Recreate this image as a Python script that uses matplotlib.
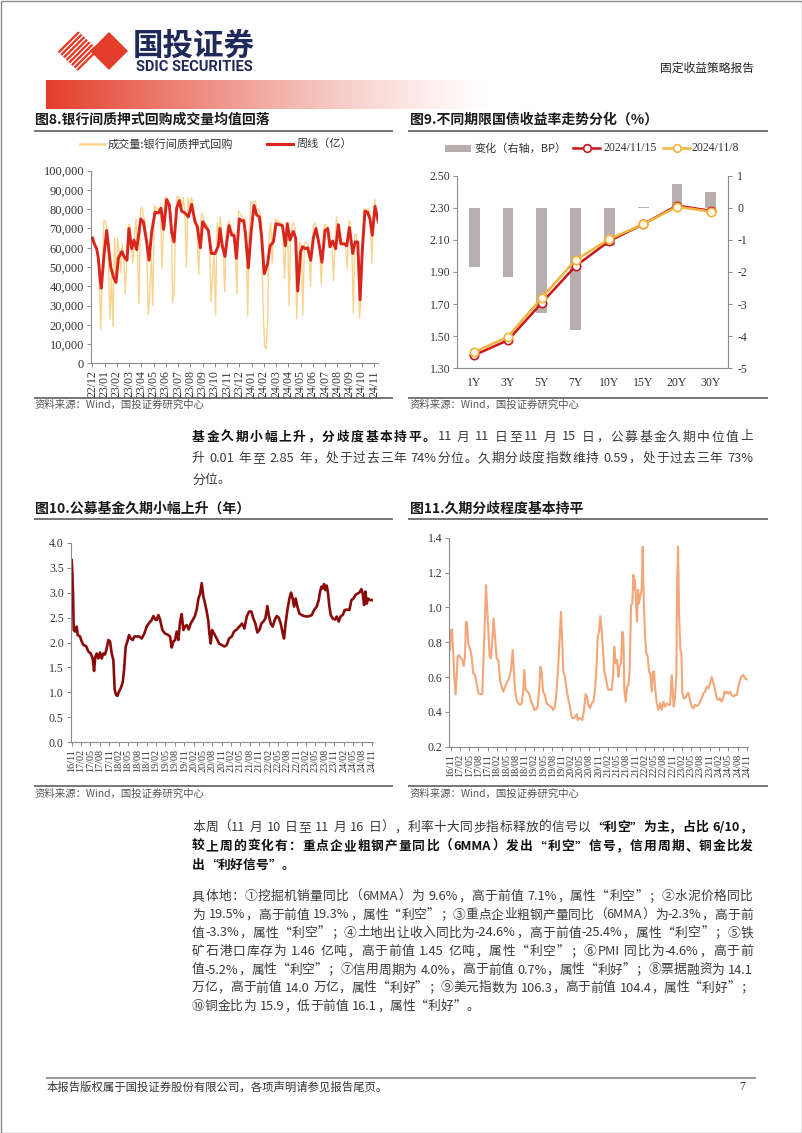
import numpy as np
import matplotlib
matplotlib.use('Agg')
import matplotlib.pyplot as plt
from matplotlib.patches import Polygon, Rectangle
from matplotlib.font_manager import FontProperties, findfont, get_font

W, H = 802, 1133
CJK = ['Noto Sans CJK SC', 'DejaVu Sans']
SERIF = ['Liberation Serif', 'DejaVu Serif']
plt.rcParams['font.family'] = CJK
plt.rcParams['axes.unicode_minus'] = False

# ---------------- data: chart 8 (interbank pledged repo volume, 亿) ----------------
months8 = ['22/12', '23/01', '23/02', '23/03', '23/04', '23/05', '23/06', '23/07',
           '23/08', '23/09', '23/10', '23/11', '23/12', '24/01', '24/02', '24/03',
           '24/04', '24/05', '24/06', '24/07', '24/08', '24/09', '24/10', '24/11']
# daily-ish volume, 8 readings per month (last month partial)
repo_daily = [
    [66000, 63000, 61000, 57000, 45000, 17500, 48000, 74000],
    [74000, 70000, 52000, 23000, 45000, 19000, 65000, 42000],
    [65000, 58000, 47000, 62000, 57000, 36000, 55000, 72000],
    [72000, 62000, 52000, 66000, 75000, 58000, 31000, 80000],
    [81000, 76000, 74000, 60000, 25000, 36000, 57000, 30000],
    [82000, 80000, 81000, 79000, 82000, 49000, 72000, 86000],
    [86000, 85000, 83000, 76000, 31500, 38000, 80000, 87000],
    [86000, 86000, 80000, 86000, 78000, 50000, 86000, 80000],
    [86000, 84000, 76000, 75000, 66000, 46000, 70000, 78000],
    [76000, 73000, 72000, 71000, 62000, 32000, 45000, 57000],
    [25000, 73000, 66000, 76000, 68000, 58000, 37000, 68000],
    [72000, 74000, 70000, 68000, 68000, 56000, 36000, 79000],
    [78000, 76000, 75000, 75000, 60000, 24500, 70000, 84000],
    [83000, 84000, 84000, 80000, 80000, 78000, 74000, 30000],
    [9000, 7500, 20000, 68000, 73000, 52000, 70000, 75000],
    [74000, 74000, 73000, 73000, 72000, 44000, 64000, 73000],
    [30000, 65000, 72000, 73000, 70000, 23000, 48000, 63000],
    [61000, 25000, 62000, 63000, 62000, 61000, 40000, 62000],
    [72000, 73000, 70000, 66000, 60000, 41000, 60000, 72000],
    [72000, 71000, 60000, 62000, 63000, 43000, 62000, 76000],
    [66000, 63000, 63000, 63000, 63000, 60000, 49000, 74000],
    [73000, 60000, 26000, 67000, 67000, 55000, 23500, 34000],
    [56000, 80000, 80000, 80000, 80000, 78000, 52000, 75000],
    [85000, 80000, 74000],
]
# weekly average (months since 2022-12-01)
week_x = [0.0, 0.16, 0.35, 0.49, 0.63, 0.73, 0.95, 1.17, 1.33, 1.50,
          1.71, 1.93, 2.12, 2.40, 2.67, 2.83, 2.99, 3.21, 3.40, 3.62,
          3.95, 4.16, 4.44, 4.63, 4.84, 5.12, 5.39, 5.61, 5.82, 6.07,
          6.29, 6.48, 6.67, 6.89, 7.10, 7.29, 7.57, 7.84, 8.11, 8.38,
          8.57, 8.82, 9.01, 9.23, 9.47, 9.72, 10.02, 10.29, 10.42, 10.61,
          10.83, 11.02, 11.16, 11.38, 11.57, 11.76, 12.00, 12.19, 12.36, 12.49,
          12.74, 12.96, 13.20, 13.42, 13.64, 13.83, 14.04, 14.29, 14.51, 14.78,
          15.00, 15.27, 15.52, 15.76, 15.92, 16.14, 16.41, 16.60, 16.77, 17.01,
          17.17, 17.39, 17.58, 17.83, 18.05, 18.26, 18.48, 18.75, 19.00, 19.22,
          19.41, 19.62, 19.87, 20.09, 20.30, 20.58, 20.77, 20.99, 21.26, 21.45,
          21.67, 21.86, 22.05, 22.26, 22.46, 22.67, 22.86, 23.08, 23.35]
week_v = [65000, 62000, 59500, 54500, 44000, 39000, 56000, 69000, 60000, 50000,
          45000, 42000, 54500, 58000, 54500, 53500, 70000, 59500, 64000, 59000,
          75000, 73500, 63000, 53500, 68000, 78500, 78000, 80500, 69500, 85000,
          82000, 68000, 63000, 80500, 84500, 79000, 78000, 76000, 82500, 73500,
          71000, 60000, 73500, 71000, 69000, 57000, 57000, 61000, 70000, 61000,
          55500, 65000, 71500, 66500, 66500, 54500, 75000, 74000, 74000, 68000,
          49500, 68000, 82000, 77000, 76000, 65000, 46500, 51000, 61000, 63000,
          72500, 72000, 71500, 61000, 72500, 64000, 68500, 65000, 37500, 58000,
          60500, 59500, 60000, 53500, 65000, 70000, 63000, 52500, 69000, 70000,
          60500, 63500, 59500, 72000, 62000, 62000, 61000, 70500, 57000, 63000,
          63000, 33000, 59500, 79000, 78500, 75000, 66500, 81500, 73500]

# ---------------- data: chart 9 (treasury yields) ----------------
tenors = ['1Y', '3Y', '5Y', '7Y', '10Y', '15Y', '20Y', '30Y']
yield_1115 = [1.382, 1.475, 1.708, 1.937, 2.093, 2.198, 2.314, 2.281]
yield_1108 = [1.400, 1.497, 1.740, 1.975, 2.105, 2.198, 2.307, 2.276]
change_bp = [-1.85, -2.17, -3.27, -3.80, -1.18, 0.02, 0.73, 0.50]

# ---------------- data: charts 10 / 11 (months since 2016-11) ----------------
qlabels = ['16/11', '17/02', '17/05', '17/08', '17/11', '18/02', '18/05', '18/08',
           '18/11', '19/02', '19/05', '19/08', '19/11', '20/02', '20/05', '20/08',
           '20/11', '21/02', '21/05', '21/08', '21/11', '22/02', '22/05', '22/08',
           '22/11', '23/02', '23/05', '23/08', '23/11', '24/02', '24/05', '24/08', '24/11']
dur_x = [0.0, 0.21, 0.43, 0.64, 1.07, 1.60, 1.92, 2.67, 3.20, 3.73,
         4.59, 5.33, 6.08, 6.72, 7.15, 7.57, 8.00, 8.53, 9.07, 9.60,
         10.13, 10.67, 11.20, 11.73, 12.27, 12.80, 13.33, 13.76, 14.19, 14.61,
         15.15, 15.68, 16.32, 16.75, 17.28, 17.81, 18.35, 18.88, 19.52, 20.05,
         20.80, 21.65, 22.40, 23.25, 24.00, 24.85, 25.60, 26.13, 26.77, 27.20,
         27.73, 28.27, 29.01, 29.87, 30.61, 31.47, 32.00, 32.53, 33.07, 33.60,
         34.13, 34.67, 35.20, 35.73, 36.27, 36.80, 37.44, 38.08, 38.72, 39.36,
         40.00, 40.53, 41.07, 41.60, 42.13, 42.67, 43.20, 43.73, 44.05, 44.48,
         44.91, 45.55, 46.40, 47.15, 48.00, 48.85, 49.60, 50.35, 51.20, 51.95,
         52.80, 53.65, 54.51, 55.25, 56.00, 56.75, 57.49, 58.13, 58.77, 59.41,
         60.05, 60.69, 61.33, 61.97, 62.61, 63.04, 63.68, 64.32, 64.96, 65.60,
         66.24, 66.88, 67.52, 67.95, 68.37, 69.01, 69.65, 70.19, 70.72, 71.15,
         71.68, 72.21, 72.85, 73.60, 74.35, 75.20, 76.05, 76.80, 77.55, 78.40,
         79.04, 79.47, 79.89, 80.32, 80.75, 81.17, 81.60, 82.03, 82.45, 82.88,
         83.52, 84.27, 84.80, 85.44, 86.08, 86.72, 87.36, 88.00, 88.85, 89.49,
         90.13, 90.77, 91.41, 92.05, 92.69, 93.12, 93.55, 93.97, 94.40, 94.83,
         95.47, 96.32]
dur_v = [3.65, 3.39, 2.98, 2.25, 2.22, 2.32, 2.15, 2.12, 2.02, 1.95,
         1.93, 1.82, 1.78, 1.68, 1.43, 1.72, 1.78, 1.68, 1.80, 1.68,
         1.78, 1.76, 1.88, 2.05, 2.02, 1.78, 1.65, 1.05, 0.95, 0.93,
         1.02, 1.08, 1.20, 1.45, 1.92, 2.02, 2.15, 2.08, 2.05, 2.12,
         2.12, 2.12, 2.08, 2.18, 2.32, 2.40, 2.45, 2.53, 2.46, 2.45,
         2.55, 2.46, 2.25, 2.18, 2.16, 2.12, 1.90, 2.02, 2.05, 2.22,
         2.05, 2.42, 2.57, 2.25, 2.32, 2.35, 2.26, 2.38, 2.45, 2.52,
         2.66, 2.88, 2.97, 3.19, 2.92, 2.78, 2.62, 2.42, 2.18, 1.98,
         2.25, 2.18, 2.08, 1.98, 1.95, 1.92, 1.95, 2.08, 2.12, 2.22,
         2.26, 2.32, 2.38, 2.28, 2.52, 2.62, 2.62, 2.48, 2.38, 2.20,
         2.25, 2.38, 2.42, 2.48, 2.73, 2.55, 2.38, 2.32, 2.45, 2.53,
         2.50, 2.38, 2.18, 2.08, 2.35, 2.65, 2.88, 3.00, 2.88, 2.72,
         2.88, 2.72, 2.58, 2.55, 2.53, 2.52, 2.53, 2.55, 2.65, 2.72,
         2.85, 3.02, 3.12, 3.08, 3.17, 3.05, 3.14, 2.98, 2.72, 2.55,
         2.48, 2.46, 2.52, 2.42, 2.53, 2.55, 2.65, 2.66, 2.65, 2.85,
         2.88, 2.95, 2.98, 3.00, 3.07, 2.98, 2.75, 3.02, 2.78, 2.88,
         2.85, 2.85]
disp_x = [-0.22, 0.11, 0.43, 0.76, 1.19, 1.62, 1.95, 2.27, 2.70, 3.35,
          3.78, 4.22, 4.65, 4.97, 5.30, 5.73, 6.27, 6.81, 7.35, 7.89,
          8.43, 8.97, 9.51, 10.27, 10.70, 11.14, 11.46, 11.78, 12.22, 12.65,
          13.08, 13.51, 13.95, 14.38, 14.92, 15.46, 16.00, 16.54, 17.08, 17.62,
          18.16, 18.92, 19.57, 20.11, 20.43, 20.86, 21.41, 21.95, 22.49, 23.03,
          23.57, 23.89, 24.32, 24.97, 25.51, 26.05, 26.59, 27.14, 27.68, 28.22,
          28.76, 29.08, 29.51, 29.95, 30.59, 31.14, 31.68, 32.22, 32.76, 33.30,
          33.84, 34.38, 34.92, 35.35, 35.78, 36.11, 36.54, 37.08, 37.62, 38.16,
          38.70, 39.24, 39.78, 40.32, 40.86, 41.19, 41.62, 42.16, 42.70, 43.24,
          43.78, 44.22, 44.65, 45.19, 45.73, 46.27, 46.81, 47.35, 47.68, 48.11,
          48.54, 48.97, 49.41, 49.84, 50.27, 50.70, 51.14, 51.68, 52.22, 52.65,
          53.08, 53.51, 53.95, 54.38, 54.70, 55.24, 55.68, 56.00, 56.32, 56.76,
          57.19, 57.62, 58.05, 58.49, 58.92, 59.24, 59.57, 59.78, 60.11, 60.43,
          60.76, 61.08, 61.51, 61.95, 62.27, 62.59, 63.03, 63.46, 63.89, 64.32,
          64.76, 65.19, 65.62, 65.95, 66.27, 66.81, 67.35, 67.89, 68.43, 68.97,
          69.51, 70.05, 70.59, 71.14, 71.68, 72.00, 72.32, 72.76, 73.19, 73.41,
          73.73, 74.05, 74.49, 74.81, 75.14, 75.57, 76.00, 76.54, 77.08, 77.62,
          78.16, 78.70, 79.24, 79.78, 80.32, 80.86, 81.41, 81.95, 82.49, 83.03,
          83.57, 84.11, 84.65, 85.19, 85.73, 86.27, 86.81, 87.35, 87.89, 88.43,
          88.76, 89.19, 89.62, 90.05, 90.59, 91.14, 91.68, 92.22, 92.76, 93.30,
          93.84, 94.38, 94.92, 95.46, 96.00]
disp_v = [0.755, 0.870, 0.874, 0.774, 0.600, 0.500, 0.600, 0.717, 0.726, 0.707,
          0.698, 0.663, 0.717, 0.918, 0.908, 0.793, 0.765, 0.717, 0.621, 0.611,
          0.564, 0.510, 0.502, 0.502, 0.717, 0.946, 1.128, 1.023, 0.870, 0.717,
          0.707, 0.812, 0.937, 0.830, 0.707, 0.698, 0.583, 0.545, 0.516, 0.545,
          0.564, 0.592, 0.640, 0.755, 0.659, 0.525, 0.468, 0.449, 0.440, 0.449,
          0.525, 0.640, 0.525, 0.516, 0.502, 0.458, 0.440, 0.411, 0.414, 0.430,
          0.545, 0.659, 0.631, 0.516, 0.497, 0.449, 0.440, 0.434, 0.426, 0.411,
          0.430, 0.525, 0.678, 0.832, 0.975, 0.832, 0.631, 0.600, 0.525, 0.468,
          0.430, 0.368, 0.363, 0.368, 0.388, 0.353, 0.363, 0.363, 0.353, 0.411,
          0.502, 0.487, 0.440, 0.420, 0.449, 0.458, 0.525, 0.678, 0.832, 0.860,
          0.950, 0.870, 0.755, 0.631, 0.600, 0.554, 0.525, 0.529, 0.525, 0.611,
          0.774, 0.678, 0.698, 0.600, 0.659, 0.678, 0.860, 0.832, 0.525, 0.458,
          0.545, 0.554, 0.640, 1.013, 1.023, 1.186, 1.100, 1.157, 1.023, 0.918,
          1.100, 1.023, 1.071, 1.100, 1.348, 1.042, 0.832, 0.736, 0.717, 0.631,
          0.621, 0.516, 0.631, 0.631, 0.545, 0.449, 0.411, 0.449, 0.411, 0.458,
          0.430, 0.449, 0.440, 0.440, 0.611, 0.525, 0.430, 0.487, 0.621, 1.119,
          1.348, 0.966, 0.755, 0.736, 0.506, 0.478, 0.478, 0.497, 0.510, 0.468,
          0.430, 0.420, 0.440, 0.434, 0.440, 0.458, 0.478, 0.506, 0.516, 0.545,
          0.535, 0.564, 0.600, 0.564, 0.525, 0.478, 0.468, 0.478, 0.458, 0.487,
          0.516, 0.506, 0.516, 0.506, 0.516, 0.497, 0.487, 0.497, 0.497, 0.545,
          0.583, 0.606, 0.611, 0.592, 0.587]

# ---------------- text ----------------
para1 = [
    [('基金久期小幅上升，分歧度基本持平。', 'bold'), ('11 月 11 日至11 月 15 日，公募基金久期中位值上', 'normal')],
    [('升 0.01 年至 2.85 年，处于过去三年 74%分位。久期分歧度指数维持 0.59，处于过去三年 73%', 'normal')],
    [('分位。', 'normal')],
]
para1_y = [437, 458.5, 480]
para2 = [
    [('本周（11 月 10 日至 11 月 16 日），利率十大同步指标释放的信号以', 'normal'), ('“利空”为主，占比 6/10，', 'bold')],
    [('较上周的变化有：重点企业粗钢产量同比（6MMA）发出“利空”信号，信用周期、铜金比发', 'bold')],
    [('出“利好信号”。', 'bold')],
    [('具体地：①挖掘机销量同比（6MMA）为 9.6%，高于前值 7.1%，属性“利空”；②水泥价格同比', 'normal')],
    [('为 19.5%，高于前值 19.3%，属性“利空”；③重点企业粗钢产量同比（6MMA）为-2.3%，高于前', 'normal')],
    [('值-3.3%，属性“利空”；④土地出让收入同比为-24.6%，高于前值-25.4%，属性“利空”；⑤铁', 'normal')],
    [('矿石港口库存为 1.46 亿吨，高于前值 1.45 亿吨，属性“利空”；⑥PMI 同比为-4.6%，高于前', 'normal')],
    [('值-5.2%，属性“利空”；⑦信用周期为 4.0%，高于前值 0.7%，属性“利好”；⑧票据融资为 14.1', 'normal')],
    [('万亿，高于前值 14.0 万亿，属性“利好”；⑨美元指数为 106.3，高于前值 104.4，属性“利好”；', 'normal')],
    [('⑩铜金比为 15.9，低于前值 16.1，属性“利好”。', 'normal')],
]
para2_y = [827.7, 846.7, 865, 896.7, 915, 933, 951.7, 970, 988, 1006.7]
para2_last = [False, False, True, False, False, False, False, False, False, True]
para1_last = [False, False, True]

# ---------------- figure ----------------
fig = plt.figure(figsize=(W / 100, H / 100), dpi=100)
bg = fig.add_axes([0, 0, 1, 1], zorder=-5)
bg.set_xlim(0, W)
bg.set_ylim(H, 0)
bg.axis('off')


def px_axes(x0, y0, x1, y1):
    return fig.add_axes([x0 / W, 1 - y1 / H, (x1 - x0) / W, (y1 - y0) / H])


def hline(x0, x1, y, color='#5f5f5f', lw=1.2):
    bg.plot([x0, x1], [y, y], color=color, lw=lw, solid_capstyle='butt')


GRAY = '#8c8c8c'


def style_axes(ax, left=True, right=False):
    for s in ['top', 'right', 'left', 'bottom']:
        ax.spines[s].set_visible(False)
    ax.spines['bottom'].set_visible(True)
    if left:
        ax.spines['left'].set_visible(True)
    if right:
        ax.spines['right'].set_visible(True)
    for s in ax.spines.values():
        s.set_color(GRAY)
        s.set_linewidth(0.8)
    ax.tick_params(direction='out', length=3, width=0.7, color=GRAY, labelcolor='#333333', pad=2)


# page border
bg.add_patch(Rectangle((0.5, 0.5), W - 1, H - 1, fill=False, ec='#8a8a8a', lw=1.0))

# header gradient band
t = np.linspace(0, 1, 300)
grad = np.zeros((1, 300, 4))
grad[0, :, 0] = 0.89
grad[0, :, 1] = 0.24
grad[0, :, 2] = 0.16
grad[0, :, 3] = (1 - t) ** 1.25
bg.imshow(grad, extent=(46, 495, 109, 80), aspect='auto', interpolation='bilinear', zorder=1)
bg.set_xlim(0, W)
bg.set_ylim(H, 0)

# logo
LOGO_RED = '#E23D28'
clip = Polygon([(78, 31), (99, 51), (78, 71), (57, 51)], closed=True, transform=bg.transData)
for k in range(-4, 14):
    x = 40 + k * 5.2
    ln, = bg.plot([x, x + 40], [71, 31], color=LOGO_RED, lw=1.7, solid_capstyle='butt')
    ln.set_clip_path(clip)
bg.add_patch(Polygon([(109, 32), (128, 51), (109, 70), (90, 51)], closed=True, fc=LOGO_RED, ec='none'))
bg.text(133, 46, '国投证券', fontsize=22, fontweight='bold', color='#1F2A5A', va='center', ha='left')
bg.text(136, 67, 'SDIC SECURITIES', fontsize=10.5, fontweight='bold', family=['Roboto', 'DejaVu Sans'],
        color='#1F2A5A', va='center', ha='left')
bg.text(754, 68, '固定收益策略报告', fontsize=8.5, color='#222222', ha='right', va='center')

# titles / rules / sources
TITLE_KW = dict(fontsize=10, fontweight='bold', color='#1a1a1a', va='center', ha='left')
SRC_KW = dict(fontsize=7.5, color='#555555', va='center', ha='left', style='italic')
bg.text(35, 120, '图8.银行间质押式回购成交量均值回落', **TITLE_KW)
bg.text(410, 120, '图9.不同期限国债收益率走势分化（%）', **TITLE_KW)
bg.text(35, 509, '图10.公募基金久期小幅上升（年）', **TITLE_KW)
bg.text(410, 509, '图11.久期分歧程度基本持平', **TITLE_KW)
hline(34, 393, 130.5)
hline(408, 768, 130.5)
hline(34, 393, 519.3)
hline(408, 768, 519.3)
hline(34, 393, 397.7)
hline(408, 768, 397.7)
hline(34, 393, 786)
hline(408, 768, 786)
bg.text(35, 405, '资料来源：Wind，国投证券研究中心', **SRC_KW)
bg.text(410, 405, '资料来源：Wind，国投证券研究中心', **SRC_KW)
bg.text(35, 793.5, '资料来源：Wind，国投证券研究中心', **SRC_KW)
bg.text(410, 793.5, '资料来源：Wind，国投证券研究中心', **SRC_KW)

# footer
hline(46, 756, 1078, color='#9a9a9a', lw=1.5)
bg.text(47, 1087, '本报告版权属于国投证券股份有限公司，各项声明请参见报告尾页。', fontsize=8.2,
        color='#333333', va='center', ha='left')
bg.text(742, 1087, '7', fontsize=8.5, color='#333333', va='center', ha='center', family=SERIF)

# ---------------- chart 8 ----------------
YEL = '#F9D48E'
RED8 = '#D8261D'
bg.plot([80, 105], [144, 144], color=YEL, lw=1.8)
bg.text(108, 144, '成交量:银行间质押式回购', fontsize=8, color='#333333', va='center')
bg.plot([267, 293], [144, 144], color=RED8, lw=2.2)
bg.text(297, 144, '周线（亿）', fontsize=8, color='#333333', va='center')

ax8 = px_axes(91, 170.7, 378.3, 363.3)
dx = [i + (j + 0.5) / 8 for i, m in enumerate(repo_daily) for j in range(len(m))]
dv = [v for m in repo_daily for v in m]
ax8.plot(dx, dv, color=YEL, lw=1.0, zorder=2)
ax8.plot(week_x, week_v, color=RED8, lw=2.1, zorder=3, solid_joinstyle='round')
ax8.set_xlim(-0.11, 23.35)
ax8.set_ylim(0, 100000)
yt8 = list(range(0, 100001, 10000))
ax8.set_yticks(yt8)
ax8.set_yticklabels([f'{v:,}' for v in yt8], family=SERIF, fontsize=9)
ax8.set_xticks(range(len(months8)))
ax8.set_xticklabels(months8, rotation=90, family=SERIF, fontsize=8.5)
style_axes(ax8)

# ---------------- chart 9 ----------------
BARC = '#B9AEAE'
RED9 = '#C8161D'
GOLD = '#F0B43C'
bg.add_patch(Rectangle((445, 145), 26, 6.5, fc=BARC, ec='none'))
bg.text(474, 148, '变化（右轴，BP）', fontsize=8, color='#333333', va='center')
bg.plot([573, 600], [148, 148], color=RED9, lw=1.8)
bg.plot([586.5], [148], marker='o', ms=5.5, mfc='white', mec=RED9, mew=1.2)
bg.text(603, 148, '2024/11/15', fontsize=8.5, color='#333333', va='center', family=SERIF)
bg.plot([663, 690], [148, 148], color=GOLD, lw=1.8)
bg.plot([676.5], [148], marker='o', ms=5.5, mfc='white', mec=GOLD, mew=1.2)
bg.text(692, 148, '2024/11/8', fontsize=8.5, color='#333333', va='center', family=SERIF)

ax9 = px_axes(457.3, 175.7, 727.7, 368.3)
ax9r = ax9.twinx()
xi = np.arange(len(tenors))
ax9r.bar(xi, change_bp, width=0.32, color=BARC, zorder=1)
ax9r.set_ylim(-5, 1)
ax9.set_zorder(ax9r.get_zorder() + 1)
ax9.patch.set_visible(False)
ax9.plot(xi, yield_1115, color=RED9, lw=1.8, marker='o', ms=6, mfc='white', mec=RED9, mew=1.2, zorder=3)
ax9.plot(xi, yield_1108, color=GOLD, lw=1.8, marker='o', ms=6, mfc='#FFFCF2', mec=GOLD, mew=1.2, zorder=4)
ax9.set_xlim(-0.5, 7.5)
ax9.set_ylim(1.30, 2.50)
yt9 = [1.30, 1.50, 1.70, 1.90, 2.10, 2.30, 2.50]
ax9.set_yticks(yt9)
ax9.set_yticklabels([f'{v:.2f}' for v in yt9], family=SERIF, fontsize=8.5)
ax9.set_xticks(xi)
ax9.set_xticklabels(tenors, family=SERIF, fontsize=8.5)
yt9r = [-5, -4, -3, -2, -1, 0, 1]
ax9r.set_yticks(yt9r)
ax9r.set_yticklabels([str(v) for v in yt9r], family=SERIF, fontsize=8.5)
style_axes(ax9)
style_axes(ax9r, left=False, right=True)
ax9r.spines['bottom'].set_visible(False)
ax9.tick_params(axis='x', length=0, pad=6)
ax9r.tick_params(axis='y', pad=4)

# ---------------- chart 10 ----------------
ax10 = px_axes(70.7, 542.7, 373.3, 742.3)
ax10.plot(dur_x, dur_v, color='#8B0A0A', lw=1.9, solid_joinstyle='round')
ax10.set_xlim(-0.32, 96.5)
ax10.set_ylim(0, 4)
yt10 = [0.0, 0.5, 1.0, 1.5, 2.0, 2.5, 3.0, 3.5, 4.0]
ax10.set_yticks(yt10)
ax10.set_yticklabels([f'{v:.1f}' for v in yt10], family=SERIF, fontsize=8.5)
ax10.set_xticks(range(0, 97, 3))
ax10.set_xticklabels(qlabels, rotation=90, family=SERIF, fontsize=7.3)
style_axes(ax10)

# ---------------- chart 11 ----------------
ax11 = px_axes(449.3, 537.7, 748.3, 746.7)
ax11.plot(disp_x, disp_v, color='#F4A679', lw=1.5, solid_joinstyle='round')
ax11.set_xlim(-0.43, 96.5)
ax11.set_ylim(0.2, 1.4)
yt11 = [0.2, 0.4, 0.6, 0.8, 1.0, 1.2, 1.4]
ax11.set_yticks(yt11)
ax11.set_yticklabels([f'{v:.1f}' for v in yt11], family=SERIF, fontsize=8.5)
ax11.set_xticks(range(0, 97, 3))
ax11.set_xticklabels(qlabels, rotation=90, family=SERIF, fontsize=7.3)
style_axes(ax11)

# ---------------- body text (justified per character) ----------------
BODY_SIZE = 9.2
_fonts = {}


def body_font(weight):
    if weight not in _fonts:
        _fonts[weight] = findfont(FontProperties(family='Noto Sans CJK SC', weight=weight))
    f = get_font(_fonts[weight])
    f.set_size(BODY_SIZE, 100)
    return f


def advance(tok, weight):
    f = body_font(weight)
    total = 0.0
    for ch in tok:
        g = f.load_char(ord(ch))
        total += g.linearHoriAdvance / 65536.0
    return total


def tokenize(s):
    out = []
    cur = ''
    space = False
    for ch in s:
        if ch == ' ':
            if cur:
                out.append((cur, space))
                cur = ''
                space = False
            space = True
        elif ch.isascii():
            cur += ch
        else:
            if cur:
                out.append((cur, space))
                cur = ''
                space = False
            out.append((ch, space))
            space = False
    if cur:
        out.append((cur, space))
    return out


def draw_para(lines, ys, lasts, x0=192, x1=753):
    sp_w = BODY_SIZE * 100 / 72 * 0.3
    for segs, y, last in zip(lines, ys, lasts):
        items = []
        for s, w in segs:
            for tok, sp in tokenize(s):
                items.append((tok, w, advance(tok, w), sp))
        gaps = [sp_w if it[3] else 0.0 for it in items[1:]]
        total = sum(it[2] for it in items) + sum(gaps)
        extra = 0.0 if last else (x1 - x0 - total) / max(len(items) - 1, 1)
        x = x0
        for k, (tok, w, wd, sp) in enumerate(items):
            if k > 0:
                x += gaps[k - 1] + extra
            bg.text(x, y, tok, fontsize=BODY_SIZE, fontweight=w,
                    color='#111111' if w == 'bold' else '#3a3a3a', va='center', ha='left')
            x += wd


draw_para(para1, para1_y, para1_last)
draw_para(para2, para2_y, para2_last)

fig.savefig('out.png', dpi=100)
